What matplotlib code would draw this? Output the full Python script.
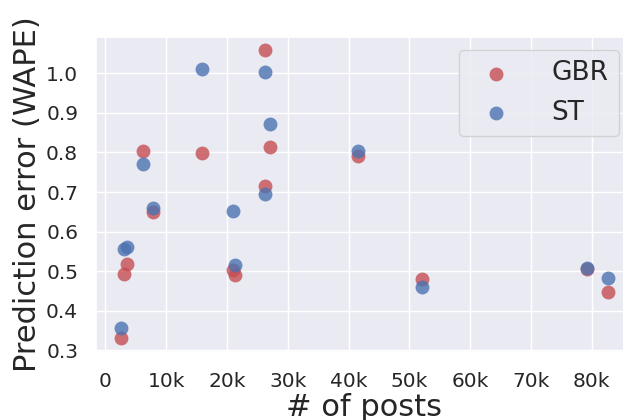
import matplotlib
matplotlib.use("Agg")
import matplotlib.pyplot as plt
import seaborn as sns

# Number of posts per dataset and prediction error of each model
posts = [2500, 3050, 3550, 6230, 7870, 15860, 20900, 21300,
         26300, 26300, 27100, 41500, 52100, 79200, 82600]
gbr_wape = [0.330, 0.492, 0.519, 0.804, 0.650, 0.798, 0.503, 0.491,
            1.059, 0.715, 0.813, 0.791, 0.479, 0.505, 0.448]
st_wape = [0.357, 0.555, 0.561, 0.771, 0.659, 1.010, 0.651, 0.515,
           1.003, 0.695, 0.872, 0.804, 0.459, 0.507, 0.482]

series_names = ["GBR", "ST"]
xtick_values = [0, 10000, 20000, 30000, 40000, 50000, 60000, 70000, 80000]
xtick_labels = ["0", "10k", "20k", "30k", "40k", "50k", "60k", "70k", "80k"]
ytick_values = [0.3, 0.4, 0.5, 0.6, 0.7, 0.8, 0.9, 1.0]
ytick_labels = ["0.3", "0.4", "0.5", "0.6", "0.7", "0.8", "0.9", "1.0"]

sns.set_theme(style="darkgrid")
plt.rcParams["font.family"] = ["DejaVu Sans"]

fig = plt.figure(figsize=(6.23, 4.20), dpi=100)
ax = fig.add_axes([96.3 / 623, 68.5 / 420, (632 - 96.3) / 623, (351.5 - 36.7) / 420])

red = sns.color_palette("deep")[3]
blue = sns.color_palette("deep")[0]

ax.scatter(posts, gbr_wape, s=100, color=red, alpha=0.8, linewidths=0,
           label=series_names[0])
ax.scatter(posts, st_wape, s=100, color=blue, alpha=0.8, linewidths=0,
           label=series_names[1])

ax.set_xlim(-1500, 86600)
ax.set_ylim(0.297, 1.0925)
ax.set_xticks(xtick_values)
ax.set_xticklabels(xtick_labels)
ax.set_yticks(ytick_values)
ax.set_yticklabels(ytick_labels)
ax.tick_params(axis="x", labelsize=14.5, pad=9, colors="#262626")
ax.tick_params(axis="y", labelsize=14.5, pad=7, colors="#262626")

ax.set_xlabel("# of posts", fontsize=22, color="#262626", labelpad=1)
ax.set_ylabel("Prediction error (WAPE)", fontsize=22, color="#262626", labelpad=3)

leg = ax.legend(loc="upper right", fontsize=19, frameon=True,
                handletextpad=1.1, borderaxespad=0.5)
leg.get_frame().set_edgecolor("#cccccc")

fig.savefig("out.png", dpi=100)
